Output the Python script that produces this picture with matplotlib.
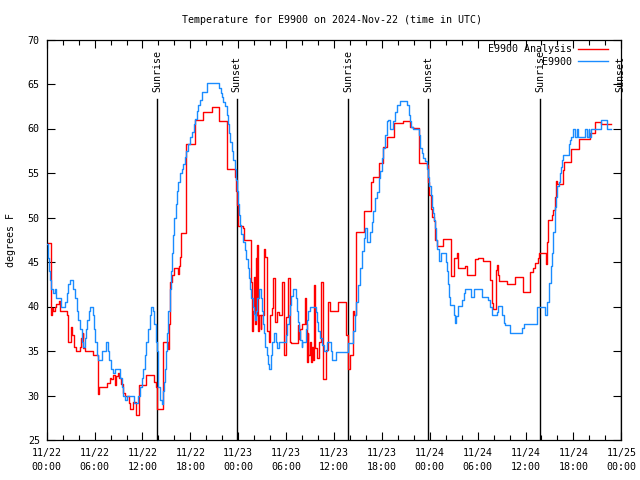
import matplotlib
matplotlib.use("Agg")
import matplotlib.pyplot as plt
from matplotlib.ticker import MultipleLocator

plt.rcParams['font.family'] = ['DejaVu Sans Mono']

# ---- data (hours since 2024-11-22 00:00 UTC, step values in degrees F) ----
obs_hours = [0.0, 0.2, 0.35, 0.45, 0.6, 0.85, 1.0, 1.15, 1.8, 2.3, 2.5, 2.7, 2.9, 3.3, 3.5, 3.75, 3.95,
             4.2, 4.4, 4.6, 4.75, 4.9, 5.1, 5.3, 5.45, 5.75, 5.9, 6.05, 6.3, 6.4, 6.9, 7.45, 7.7, 7.85,
             8.05, 8.3, 8.5, 9.2, 9.4, 9.6, 9.85, 10.0, 11.0, 11.4, 11.7, 11.9, 12.1, 12.3, 12.5, 12.7,
             12.9, 13.05, 13.35, 13.5, 13.65, 13.8, 13.9, 14.0, 14.2, 14.4, 14.6, 14.75, 14.85, 15.0,
             15.1, 15.25, 15.4, 15.55, 15.7, 15.85, 16.0, 16.2, 16.35, 16.5, 16.7, 16.9, 17.1, 17.3,
             17.5, 17.7, 17.9, 18.2, 18.4, 18.6, 18.8, 19.0, 19.2, 19.4, 20.1, 21.6, 21.8, 21.95, 22.1,
             22.35, 22.55, 22.7, 22.85, 23.0, 23.2, 23.4, 23.55, 23.7, 23.85, 24.0, 24.1, 24.25, 24.4,
             24.6, 24.8, 25.0, 25.2, 25.35, 25.5, 25.65, 25.8, 25.95, 26.1, 26.25, 26.4, 26.55, 26.8,
             26.95, 27.1, 27.25, 27.4, 27.55, 27.7, 27.85, 28.1, 28.25, 28.45, 28.7, 28.9, 29.1, 30.0,
             30.15, 30.3, 30.5, 30.65, 30.8, 31.2, 31.35, 31.5, 31.65, 31.8, 31.95, 32.05, 32.5, 32.65,
             32.8, 32.95, 33.7, 33.85, 34.0, 34.2, 34.45, 34.7, 35.1, 35.6, 35.75, 36.3, 37.8, 38.4,
             38.6, 38.8, 39.05, 39.3, 39.5, 39.7, 39.9, 40.1, 40.5, 40.7, 40.9, 41.15, 41.4, 41.6, 41.8,
             42.0, 42.2, 42.4, 42.6, 42.8, 43.0, 43.4, 43.65, 43.9, 44.3, 45.2, 45.35, 45.5, 45.7, 45.9,
             46.6, 46.8, 47.0, 47.2, 47.4, 47.6, 47.8, 47.95, 48.1, 48.25, 48.4, 48.55, 48.7, 48.8,
             48.95, 49.1, 49.4, 50.0, 50.15, 50.3, 50.4, 50.5, 51.0, 51.15, 51.3, 51.5, 52.1, 52.25,
             52.4, 53.2, 53.6, 54.6, 55.35, 55.55, 55.8, 56.4, 56.6, 57.1, 57.25, 57.4, 58.1, 59.6,
             59.8, 61.4, 62.5, 62.7, 63.0, 63.15, 63.35, 63.5, 63.65, 63.75, 63.85, 64.0, 64.15, 64.3,
             64.45, 64.6, 64.75, 65.4, 65.55, 65.7, 66.0, 66.2, 66.4, 66.6, 67.5, 67.7, 67.9, 68.0,
             68.15, 69.5, 70.2, 70.7]
obs_temp = [47, 45.5, 44, 43, 42, 41.5, 42, 41, 40, 40.5, 41.5, 42.5, 43, 42, 41, 39.5, 38.5,
            37.5, 36, 35.5, 36.5, 37.5, 38.5, 39.5, 40, 39, 37.5, 36, 34.5, 34, 35, 36, 35, 34,
            33, 32.5, 33, 32, 31, 30, 29.5, 30, 29.2, 30, 31, 32, 33, 34.5, 36, 37.5,
            39, 40, 39.5, 38, 36, 35, 33, 31, 29.5, 29, 30.5, 31.5, 33, 35,
            37, 39.5, 42, 44, 46, 48, 50, 51.5, 53, 54, 55, 55.5, 56, 56.8,
            57.5, 58.3, 59, 59.6, 60.5, 61.1, 62, 62.6, 63.2, 64.1, 65.1, 64.5, 64, 63.5, 63,
            62.5, 61.5, 60.5, 59.5, 58.5, 57.5, 56.5, 55.5, 54.2, 53, 51.5, 50.3, 49.2, 48.2,
            47.3, 46.3, 45.3, 44.3, 43.2, 42, 41, 40, 39.2, 38.5, 39.5, 41, 42, 41,
            39.5, 38, 37, 35.5, 34.5, 33.5, 33, 34.5, 36, 37, 36, 35.3, 36, 36.8,
            38, 39, 40.2, 41.2, 42, 41, 39.5, 38.3, 37.2, 36.2, 35.5, 36, 37.5, 38.5,
            39.5, 40, 39.4, 38.3, 37.3, 36.5, 35.7, 35, 36, 35, 34, 34.9, 35.9, 37.2,
            39, 40.5, 42.4, 44.3, 46.2, 47.7, 48.8, 47.3, 48.4, 49.5, 50.7, 52.2, 52.9, 54.4, 55.2,
            56.7, 57.8, 59.3, 60.8, 61, 60, 60.8, 61.9, 62.6, 63.1, 62.6, 61.5, 60.8, 60.2, 60,
            59.3, 57.8, 57.3, 56.7, 56.3, 55.5, 54.5, 53.5, 52.5, 51.2, 50.5, 49.7, 48.8, 47.5,
            46.5, 45.1, 46, 45, 44, 42.5, 41.1, 40.2, 39, 38.1, 38.9, 40.1, 40.7, 41.5,
            42, 41.1, 42, 41.1, 40.7, 40, 39.05, 39.4, 40.1, 39, 38.1, 37.9, 37, 37.6,
            38, 40, 39, 40.5, 42.6, 44.5, 46, 48.4, 50.1, 51.2, 52.3, 53.5, 54, 55,
            55.7, 56.5, 57, 58.3, 58.7, 59.1, 60, 59.1, 60, 59.1, 60, 59.1, 60, 59.1,
            60, 61, 60, 60]

ana_hours = [0.0, 0.6, 0.7, 0.85, 1.0, 1.2, 1.55, 1.7, 2.5, 2.7, 3.0, 3.2, 3.45, 3.7, 4.2, 4.35,
             4.5, 4.6, 4.75, 5.8, 6.35, 6.45, 6.55, 7.5, 7.9, 8.1, 8.3, 8.5, 8.65, 8.9, 9.1, 9.3,
             9.5, 9.8, 10.3, 10.5, 10.8, 11.25, 11.6, 12.5, 13.5, 13.75, 13.85, 14.6, 15.2, 15.35,
             15.45, 15.65, 15.9, 16.45, 16.55, 16.7, 16.8, 17.5, 18.6, 19.6, 20.7, 21.6, 22.6, 23.6,
             23.7, 23.8, 23.95, 24.6, 24.7, 25.6, 25.7, 25.85, 26.0, 26.1, 26.2, 26.3, 26.4, 26.5,
             26.65, 26.8, 26.9, 27.2, 27.3, 27.6, 27.8, 27.95, 28.2, 28.4, 28.55, 28.8, 29.1, 29.5,
             29.7, 29.95, 30.2, 30.45, 30.6, 31.5, 31.65, 31.8, 32.0, 32.35, 32.5, 32.6, 32.7, 32.8,
             32.95, 33.1, 33.2, 33.35, 33.5, 33.65, 33.9, 34.1, 34.4, 34.65, 34.95, 35.3, 35.45,
             36.5, 37.5, 37.7, 38.0, 38.35, 38.55, 38.7, 39.7, 40.6, 40.85, 41.7, 42.2, 42.6, 43.5,
             44.6, 45.5, 45.9, 46.7, 47.6, 47.8, 47.95, 48.1, 48.3, 48.5, 48.7, 48.85, 49.7, 50.6,
             51.0, 51.4, 51.6, 52.4, 52.7, 53.7, 54.1, 54.7, 55.6, 55.75, 55.9, 56.3, 56.4, 56.5,
             56.7, 57.7, 58.7, 59.7, 60.6, 60.9, 61.2, 61.5, 61.7, 62.55, 62.65, 62.8, 63.3, 63.5,
             63.7, 63.8, 64.0, 64.7, 64.8, 65.7, 66.7, 68.1, 68.7, 69.5, 70.7]
ana_temp = [47.1, 39, 39.8, 39.5, 40, 40.3, 40.6, 39.5, 39, 36, 37.7, 36.8, 35.5, 35, 35.5, 36.5,
            37, 35.3, 35, 34.6, 34.5, 30.2, 31, 31.4, 32, 31.8, 32.3, 31.2, 32.2, 32.5, 32, 31.3,
            30.3, 30, 29.2, 28.5, 29.3, 27.8, 31.2, 32.3, 31.5, 31, 28.5, 36, 35.2, 38,
            42.8, 43.5, 44.3, 43.6, 44.5, 45.6, 48.3, 58.3, 60.9, 61.9, 62.4, 60.8, 55.5, 54.5,
            53, 51.4, 49, 48.8, 47.5, 42.8, 37.3, 39.5, 43.3, 38, 45.4, 39, 46.9, 37.2,
            39, 37.5, 39, 46.5, 45.6, 37.2, 36, 39, 39.8, 43.2, 38.3, 39.4, 39, 42.8,
            34.5, 38.8, 43.2, 36, 35.9, 37.9, 36.4, 37.5, 38, 40.9, 38, 33.8, 37, 34.5,
            36, 33.8, 35.5, 34, 42.4, 35.3, 34.2, 36, 42.8, 31.9, 35.1, 40.5, 39.5,
            40.5, 36.8, 33, 34.5, 39.5, 39, 48.4, 50.7, 54, 54.6, 56.1, 57.9, 59.1, 60.6,
            60.85, 60.2, 60.1, 56.1, 55.9, 54, 52.5, 51, 50.1, 49.6, 47.5, 46.8, 47.6, 43.4,
            45.4, 46, 44.3, 44.5, 43.5, 45.3, 45.4, 45.1, 43, 40.4, 39.7, 44.1, 44.7, 43.5,
            42.9, 42.5, 43.3, 41.6, 43.9, 44.3, 44.9, 45.4, 46, 44.8, 47.3, 49.7, 50.3, 50.8,
            52.3, 54.1, 53.8, 55.3, 56.2, 57.7, 58.8, 59.5, 60.7, 60.5, 60.5]

sun_hours = [13.86, 23.8, 37.8, 47.8, 61.85, 71.9]
sun_labels = ["Sunrise", "Sunset", "Sunrise", "Sunset", "Sunrise", "Sunset"]

xtick_hours = [0, 6, 12, 18, 24, 30, 36, 42, 48, 54, 60, 66, 72]
xtick_labels = ["11/22\n00:00", "11/22\n06:00", "11/22\n12:00", "11/22\n18:00",
                "11/23\n00:00", "11/23\n06:00", "11/23\n12:00", "11/23\n18:00",
                "11/24\n00:00", "11/24\n06:00", "11/24\n12:00", "11/24\n18:00",
                "11/25\n00:00"]
ytick_values = [25, 30, 35, 40, 45, 50, 55, 60, 65, 70]

FS = 7.2

fig = plt.figure(figsize=(6.4, 4.8), dpi=100)
ax = fig.add_axes([46.7 / 640, 1 - 440 / 480, (621.3 - 46.7) / 640, (440 - 39.5) / 480])

for h, lab in zip(sun_hours, sun_labels):
    ax.axvline(h, ymin=0, ymax=0.851, color='black', lw=1.0, zorder=1)
    ax.text(h, 0.869, lab, transform=ax.get_xaxis_transform(), rotation=90,
            ha='center', va='bottom', fontsize=FS, zorder=1)

ax.plot(ana_hours, ana_temp, drawstyle='steps-post', color='#ff0000', lw=1.0,
        label='E9900 Analysis', zorder=2)
ax.plot(obs_hours, obs_temp, drawstyle='steps-post', color='#1a8cff', lw=1.0,
        label='E9900', zorder=3)

ax.set_xlim(0, 72)
ax.set_ylim(25, 70)
ax.set_xticks(xtick_hours)
ax.set_xticklabels(xtick_labels, fontsize=FS, linespacing=1.45)
ax.xaxis.set_minor_locator(MultipleLocator(2))
ax.set_yticks(ytick_values)
ax.set_yticklabels([str(v) for v in ytick_values], fontsize=FS)

ax.tick_params(which='both', direction='in', top=True, right=True, width=0.8)
ax.tick_params(which='major', length=6, pad=5)
ax.tick_params(which='minor', length=3.3)
ax.tick_params(axis='x', which='major', pad=6)
for s in ax.spines.values():
    s.set_linewidth(0.9)

leg = ax.legend(loc='upper right', bbox_to_anchor=(0.980, 0.993), frameon=False,
                markerfirst=False, fontsize=FS, handlelength=3.0, handletextpad=0.55,
                labelspacing=0.25, borderaxespad=0.0, borderpad=0.2)

fig.text(332.5 / 640, 1 - 20 / 480, "Temperature for E9900 on 2024-Nov-22 (time in UTC)",
         ha='center', va='center', fontsize=FS)
fig.text(11 / 640, 0.5, "degrees F", rotation=90, ha='center', va='center', fontsize=FS)

fig.savefig('out.png', dpi=100)
